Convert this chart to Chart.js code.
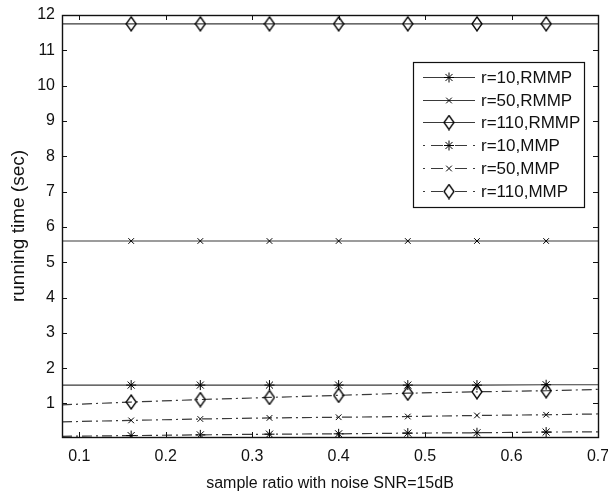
<!DOCTYPE html>
<html>
<head>
<meta charset="utf-8">
<script src="https://cdn.jsdelivr.net/npm/chart.js@4.4.1/dist/chart.umd.min.js"></script>
<style>
  html, body { margin: 0; padding: 0; background: #fff; }
  canvas { display: block; }
</style>
</head>
<body>
<canvas id="timeChart" width="608" height="498"></canvas>
<script>
// sample ratios (first/last only carry the line to the plot edges)
const ratios = [0.08, 0.16, 0.24, 0.32, 0.40, 0.48, 0.56, 0.64, 0.72];

const r10RMMP = [1.52, 1.52, 1.52, 1.52, 1.52, 1.52, 1.52, 1.53, 1.53];
const r50RMMP = [5.6, 5.6, 5.6, 5.6, 5.6, 5.6, 5.6, 5.6, 5.6];
const r110RMMP = [11.75, 11.75, 11.75, 11.75, 11.75, 11.75, 11.75, 11.75, 11.75];
const r10MMP = [0.07, 0.09, 0.11, 0.13, 0.14, 0.16, 0.17, 0.19, 0.20];
const r50MMP = [0.48, 0.52, 0.56, 0.59, 0.61, 0.63, 0.66, 0.68, 0.71];
const r110MMP = [0.96, 1.04, 1.11, 1.17, 1.23, 1.29, 1.33, 1.36, 1.41];

const xTicks = [0.1, 0.2, 0.3, 0.4, 0.5, 0.6, 0.7];
const yTicks = [1, 2, 3, 4, 5, 6, 7, 8, 9, 10, 11, 12];

const FONT = '"Liberation Sans", Arial, Helvetica, sans-serif';
const INK = '#111';

// hollow tall diamond marker
function makeDiamond() {
    const c = document.createElement('canvas');
    c.width = 12;
    c.height = 16;
    const g = c.getContext('2d');
    g.strokeStyle = '#000';
    g.lineWidth = 1.3;
    g.beginPath();
    g.moveTo(6, 1);
    g.lineTo(11, 8);
    g.lineTo(6, 15);
    g.lineTo(1, 8);
    g.closePath();
    g.stroke();
    return c;
}
const diamond = makeDiamond();

const markerRadius = ratios.map((r, i) => (i === 0 || i === ratios.length - 1) ? 0 : 1);
const toPoints = values => ratios.map((r, i) => ({ x: r, y: values[i] }));

const solid = [];
const dashDot = [10, 4, 2, 4];

function series(label, values, marker, dash, radius) {
    return {
        label: label,
        data: toPoints(values),
        showLine: true,
        borderColor: '#3a3a3a',
        borderWidth: 1.2,
        borderDash: dash,
        pointStyle: marker,
        pointRadius: markerRadius.map(v => v * radius),
        markerSize: radius,
        pointBorderColor: '#000',
        pointBorderWidth: 1,
        pointBackgroundColor: 'rgba(0,0,0,0)',
        tension: 0
    };
}

const datasets = [
    series('r=10,RMMP', r10RMMP, 'star', solid, 5),
    series('r=50,RMMP', r50RMMP, 'crossRot', solid, 4),
    series('r=110,RMMP', r110RMMP, diamond, solid, 6),
    series('r=10,MMP', r10MMP, 'star', dashDot, 5),
    series('r=50,MMP', r50MMP, 'crossRot', dashDot, 4),
    series('r=110,MMP', r110MMP, diamond, dashDot, 6)
];

// box, inward tick marks on all four sides
const frame = {
    id: 'frame',
    afterDatasetsDraw(chart) {
        const { ctx, chartArea: a, scales } = chart;
        ctx.save();
        ctx.strokeStyle = INK;
        ctx.lineWidth = 1;
        ctx.beginPath();
        scales.x.ticks.forEach(t => {
            const px = Math.round(scales.x.getPixelForValue(t.value)) + 0.5;
            ctx.moveTo(px, a.bottom); ctx.lineTo(px, a.bottom - 5);
            ctx.moveTo(px, a.top); ctx.lineTo(px, a.top + 5);
        });
        scales.y.ticks.forEach(t => {
            const py = Math.round(scales.y.getPixelForValue(t.value)) + 0.5;
            ctx.moveTo(a.left, py); ctx.lineTo(a.left + 5, py);
            ctx.moveTo(a.right, py); ctx.lineTo(a.right - 5, py);
        });
        ctx.stroke();
        ctx.lineWidth = 1.4;
        ctx.strokeRect(Math.round(a.left) + 0.5, Math.round(a.top) + 0.5,
            Math.round(a.right - a.left), Math.round(a.bottom - a.top));
        ctx.restore();
    }
};

// legend box drawn from the dataset styles
const boxLegend = {
    id: 'boxLegend',
    afterDraw(chart) {
        const { ctx } = chart;
        const left = 413, top = 62, width = 171, height = 145;
        const rowH = 22.7, firstRow = 77;
        const solidParts = [[423, 475]];
        const dashParts = [[423, 425], [431, 443], [455, 467], [473, 475]];
        ctx.save();
        ctx.fillStyle = '#fff';
        ctx.fillRect(left, top, width, height);
        ctx.strokeStyle = INK;
        ctx.lineWidth = 1.2;
        ctx.strokeRect(left + 0.5, top + 0.5, width, height);
        ctx.font = '17px ' + FONT;
        ctx.textBaseline = 'middle';
        chart.data.datasets.forEach((ds, i) => {
            const y = Math.round(firstRow + i * rowH) + 0.5;
            ctx.strokeStyle = ds.borderColor;
            ctx.lineWidth = ds.borderWidth;
            ctx.beginPath();
            (ds.borderDash.length ? dashParts : solidParts).forEach(([x0, x1]) => {
                ctx.moveTo(x0, y);
                ctx.lineTo(x1, y);
            });
            ctx.stroke();
            ctx.strokeStyle = ds.pointBorderColor;
            ctx.fillStyle = 'rgba(0,0,0,0)';
            ctx.lineWidth = 1;
            Chart.helpers.drawPoint(ctx, {
                pointStyle: ds.pointStyle,
                radius: ds.markerSize,
                rotation: 0,
                borderWidth: 1
            }, 449, y);
            ctx.fillStyle = INK;
            ctx.fillText(ds.label, 481, y + 1);
        });
        ctx.restore();
    }
};

new Chart(document.getElementById('timeChart'), {
    type: 'scatter',
    data: { datasets: datasets },
    options: {
        responsive: false,
        animation: false,
        layout: { padding: { top: 15, right: 10, left: 0, bottom: 0 } },
        plugins: {
            legend: { display: false },
            tooltip: { enabled: false }
        },
        scales: {
            x: {
                type: 'linear',
                min: 0.08,
                max: 0.7,
                afterBuildTicks: scale => { scale.ticks = xTicks.map(v => ({ value: v })); },
                afterFit: scale => {
                    scale.height = 61;
                    scale.paddingLeft = 0;
                    scale.paddingRight = 0;
                },
                grid: { display: false, drawTicks: false },
                border: { display: false },
                ticks: {
                    padding: 10,
                    color: INK,
                    font: { family: FONT, size: 16 },
                    callback: v => v.toFixed(1)
                },
                title: {
                    display: true,
                    text: 'sample ratio with noise SNR=15dB',
                    color: INK,
                    font: { family: FONT, size: 16 },
                    padding: { top: 0, bottom: 5 }
                }
            },
            y: {
                type: 'linear',
                min: 0.05,
                max: 12,
                afterBuildTicks: scale => { scale.ticks = yTicks.map(v => ({ value: v })); },
                afterFit: scale => {
                    scale.width = 62;
                    scale.paddingTop = 0;
                    scale.paddingBottom = 0;
                },
                grid: { display: false, drawTicks: false },
                border: { display: false },
                ticks: {
                    padding: 7,
                    color: INK,
                    font: { family: FONT, size: 16 },
                    callback: v => String(v)
                },
                title: {
                    display: true,
                    text: 'running time (sec)',
                    color: INK,
                    font: { family: FONT, size: 19 },
                    padding: { top: 7, bottom: 0 }
                }
            }
        }
    },
    plugins: [frame, boxLegend]
});
</script>
</body>
</html>
